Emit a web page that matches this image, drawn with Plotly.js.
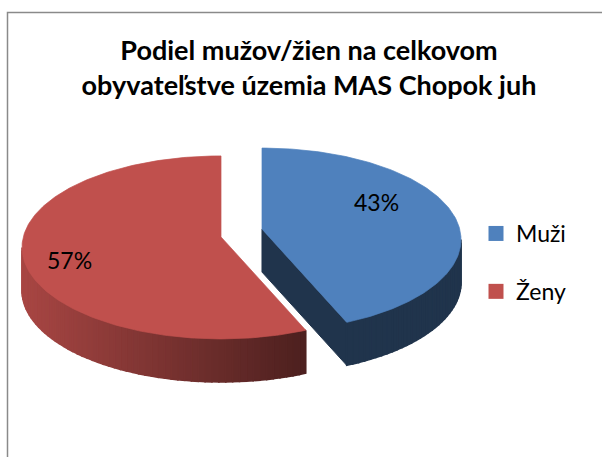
<!DOCTYPE html>
<html><head><meta charset="utf-8">
<script src="https://cdn.plot.ly/plotly-3.0.1.min.js"></script>
<style>html,body{margin:0;padding:0;background:#fff}</style>
</head><body><div id="chart" style="width:602px;height:457px"></div>
<script>
// ---- data ----
const categories = ['Muži', 'Ženy'];
const shares = [43, 57];
const topColors = ['#4F81BD', '#C0504D'];
const chartTitle = 'Podiel mužov/žien na celkovom<br>obyvateľstve územia MAS Chopok juh';

// ---- 3D pie geometry (layout constants, pixels) ----
const CX = 241.5, CY = 233;      // pie centre before explosion
const RX = 199, RY = 91.5, DY = 10.5, DEPTH = 43;
const EXPLODE_X = 21, EXPLODE_Y = 18;
const labelRadius = [0.59, 0.78], labelLift = [23, 0];
const FONT = 'Lato, "Liberation Sans", sans-serif';

function hexToRgb(h){ h=h.replace('#',''); return [0,2,4].map(k=>parseInt(h.substr(k,2),16)); }
function shade(hex, f){ const c=hexToRgb(hex).map(v=>Math.round(v*f)); return 'rgb('+c.join(',')+')'; }
function sideFactor(x){ // lighting: lighter at left, darker toward right
  const t = Math.min(1, Math.max(0, (x-22)/280));
  return 0.875 + (0.40-0.875)*t;
}

const total = shares.reduce((a,b)=>a+b,0);
let acc = 0;
const slices = shares.map((v,i)=>{
  const a0 = acc/total*2*Math.PI; acc += v; const a1 = acc/total*2*Math.PI;
  return {i, a0, a1, m:(a0+a1)/2};
});
function apexOf(s){ return [CX + EXPLODE_X*Math.sin(s.m), CY - EXPLODE_Y*Math.cos(s.m)]; }
function rim(ap, t, d){ return [ap[0] + RX*Math.sin(t), ap[1] + DY - RY*Math.cos(t) + d]; }
function poly(pts, color, lw){
  return {type:'scatter', mode:'lines', x:pts.map(p=>p[0]).concat([pts[0][0]]), y:pts.map(p=>p[1]).concat([pts[0][1]]),
    fill:'toself', fillcolor:color, line:{color:color, width:lw}, hoverinfo:'skip', showlegend:false};
}

const under = [], tops = [];
slices.forEach(s=>{
  const ap = apexOf(s), col = topColors[s.i];
  if (Math.sin(s.a1) > 1e-6) {
    const p1 = rim(ap, s.a1, 0), p2 = rim(ap, s.a1, DEPTH);
    under.push(poly([[ap[0],ap[1]], p1, p2, [ap[0], ap[1]+DEPTH]], shade(col, sideFactor(p1[0])), 1));
  }
  if (Math.sin(s.a0) < -1e-6) {
    const p1 = rim(ap, s.a0, 0), p2 = rim(ap, s.a0, DEPTH);
    under.push(poly([[ap[0],ap[1]], p1, p2, [ap[0], ap[1]+DEPTH]], shade(col, sideFactor(p1[0])), 1));
  }
  const lo = Math.max(s.a0, Math.PI/2), hi = Math.min(s.a1, 3*Math.PI/2);
  if (hi > lo) {
    const n = Math.max(1, Math.ceil((hi-lo)/(Math.PI/90)));
    for (let k=0;k<n;k++){
      const t0 = lo + (hi-lo)*k/n, t1 = lo + (hi-lo)*(k+1)/n;
      const q = [rim(ap,t0,0), rim(ap,t1,0), rim(ap,t1,DEPTH), rim(ap,t0,DEPTH)];
      under.push(poly(q, shade(col, sideFactor((q[0][0]+q[1][0])/2)), 1.6));
    }
  }
  const pts = [[ap[0],ap[1]]];
  const n = Math.ceil((s.a1-s.a0)/(Math.PI/180));
  for (let k=0;k<=n;k++) pts.push(rim(ap, s.a0 + (s.a1-s.a0)*k/n, 0));
  tops.push(poly(pts, col, 0.7));
});

// data labels
const lx = [], ly = [], lt = [];
slices.forEach(s=>{
  const ap = apexOf(s);
  lx.push(ap[0] + labelRadius[s.i]*RX*Math.sin(s.m));
  ly.push(ap[1] + DY - labelRadius[s.i]*RY*Math.cos(s.m) - labelLift[s.i]);
  lt.push(Math.round(shares[s.i]/total*100) + '%');
});
const labelTrace = {type:'scatter', mode:'text', x:lx, y:ly, text:lt, textposition:'middle center',
  textfont:{family:FONT, size:23, color:'#000'}, hoverinfo:'skip', showlegend:false, cliponaxis:false};

const legendTraces = categories.map((c,i)=>({type:'scatter', mode:'markers', x:[null], y:[null], name:c,
  legendgroup:'g'+i, marker:{symbol:'square', size:15, color:topColors[i]}, hoverinfo:'skip'}));

const layout = {
  width:602, height:457, margin:{l:0,r:0,t:0,b:0}, paper_bgcolor:'#fff', plot_bgcolor:'#fff',
  xaxis:{range:[0,602], visible:false, fixedrange:true},
  yaxis:{range:[457,0], visible:false, fixedrange:true},
  title:{text:'<b>'+chartTitle+'</b>', font:{family:FONT, size:27, color:'#000'}, x:309/602, xanchor:'center',
    xref:'container', yref:'container', y:1-60/457, yanchor:'top'},
  showlegend:true,
  legend:{x:476/602, xanchor:'left', y:1-212/457, yanchor:'top', font:{family:FONT, size:23, color:'#000'},
    traceorder:'grouped', tracegroupgap:25, bgcolor:'rgba(0,0,0,0)'},
  shapes:[{type:'rect', xref:'x', yref:'y', x0:7.5, y0:12.5, x1:800, y1:800, line:{color:'#8A8A8A', width:1.5}, layer:'below'}]
};
Plotly.newPlot('chart', under.concat(tops, [labelTrace], legendTraces), layout, {displayModeBar:false, staticPlot:true});
</script></body></html>
